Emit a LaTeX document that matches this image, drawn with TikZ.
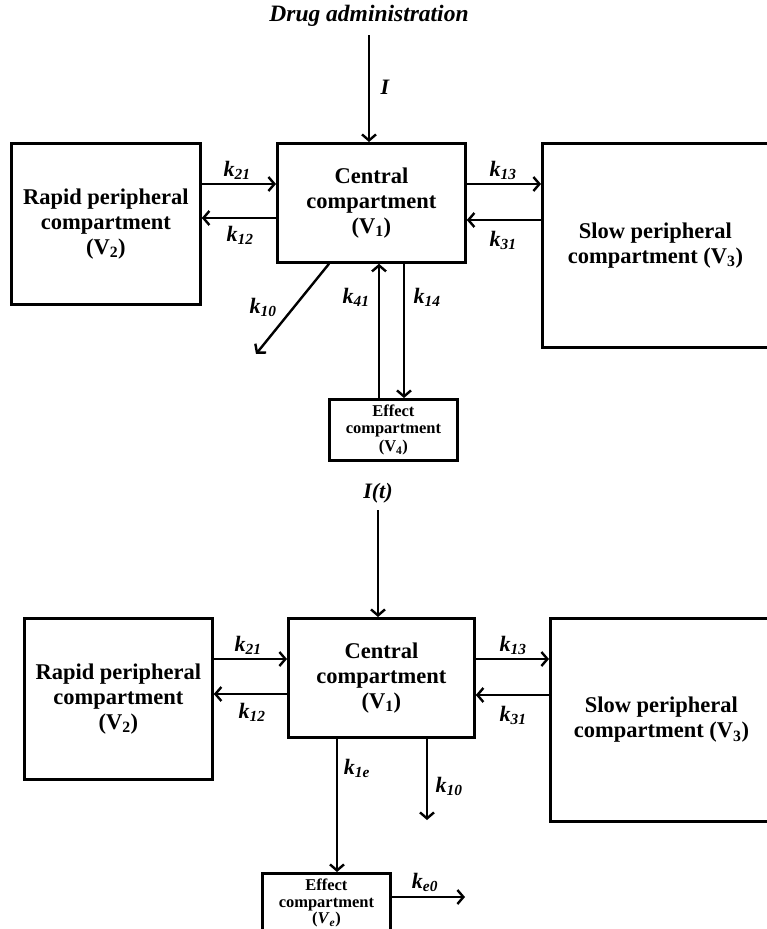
\documentclass[tikz,border=0pt]{standalone}
\usepackage{fontspec}
\setmainfont{Liberation Serif}
\usetikzlibrary{arrows.meta}
\newcommand\krate[1]{k\textsubscript{#1}}
\begin{document}
\begin{tikzpicture}[x=1pt,y=-1pt,
  box/.style={draw, line width=2.8pt, align=center, inner sep=0pt, anchor=north west,
    font=\fontsize{22.5}{25}\selectfont\bfseries},
  smallbox/.style={box, font=\fontsize{16.5}{17.5}\selectfont\bfseries},
  arr/.style={line width=2.4pt, -{Straight Barb[length=6pt,width=14pt]}},
  lab/.style={font=\fontsize{22}{24}\selectfont\bfseries\itshape, inner sep=0pt}]
\clip (0,0) rectangle (767,929);
\fill[white] (0,0) rectangle (767,929);
% ---------- top diagram ----------
\node[lab, font=\fontsize{23.5}{25}\selectfont\bfseries\itshape] (drug) at (369,16) {Drug administration};
\node[box, minimum width=188, minimum height=119] (c1) at (276,142) {Central\\compartment\\(V\textsubscript{1})};
\node[box, minimum width=189, minimum height=161] (r1) at (10,142) {Rapid peripheral\\compartment\\(V\textsubscript{2})};
\node[box, minimum width=226, minimum height=204] (s1) at (541,142) {Slow peripheral\\compartment (V\textsubscript{3})};
\node[smallbox, minimum width=128, minimum height=61] (e1) at (328,398) {Effect\\compartment\\(V\textsubscript{4})};
\coordinate (in1) at (369,35);
\coordinate (k10e) at (256,354);
\draw[arr] (in1) -- (in1 |- c1.north);
\draw[arr] (r1.east |- 0,184) -- (c1.west |- 0,184);
\draw[arr] (c1.west |- 0,218) -- (r1.east |- 0,218);
\draw[arr] (c1.east |- 0,184) -- (s1.west |- 0,184);
\draw[arr] (s1.west |- 0,220) -- (c1.east |- 0,220);
\draw[arr] ([xshift=53pt]c1.south west) -- (k10e);
\draw[arr] ([xshift=51pt]e1.north west) -- ([xshift=103pt]c1.south west);
\draw[arr] ([xshift=128pt]c1.south west) -- ([xshift=76pt]e1.north west);
\node[lab] (lI) at (385,87) {I};
\node[lab] (l21a) at (237,170) {\krate{21}};
\node[lab] (l12a) at (240,235) {\krate{12}};
\node[lab] (l13a) at (503,170) {\krate{13}};
\node[lab] (l31a) at (503,240) {\krate{31}};
\node[lab] (l10a) at (263,307) {\krate{10}};
\node[lab] (l41a) at (356,297) {\krate{41}};
\node[lab] (l14a) at (427,297) {\krate{14}};
% ---------- bottom diagram ----------
\node[lab] (it) at (378,493) {I(t)};
\node[box, minimum width=186, minimum height=119] (c2) at (287,617) {Central\\compartment\\(V\textsubscript{1})};
\node[box, minimum width=188, minimum height=161] (r2) at (23,617) {Rapid peripheral\\compartment\\(V\textsubscript{2})};
\node[box, minimum width=222, minimum height=203] (s2) at (549,617) {Slow peripheral\\compartment (V\textsubscript{3})};
\node[smallbox, font=\fontsize{16.5}{16.5}\selectfont\bfseries, minimum width=128, minimum height=60] (e2) at (261,872) {Effect\\compartment\\(\textit{V}\textsubscript{\textit{e}})};
\coordinate (in2) at (378,510);
\coordinate (k10f) at (427,820);
\coordinate (ke0e) at (465,897);
\draw[arr] (in2) -- (in2 |- c2.north);
\draw[arr] (r2.east |- 0,659) -- (c2.west |- 0,659);
\draw[arr] (c2.west |- 0,694) -- (r2.east |- 0,694);
\draw[arr] (c2.east |- 0,659) -- (s2.west |- 0,659);
\draw[arr] (s2.west |- 0,695) -- (c2.east |- 0,695);
\draw[arr] ([xshift=50pt]c2.south west) -- ([xshift=76pt]e2.north west);
\draw[arr] ([xshift=140pt]c2.south west) -- (k10f);
\draw[arr] (e2.east |- ke0e) -- (ke0e);
\node[lab] (l21b) at (248,645) {\krate{21}};
\node[lab] (l12b) at (252,712) {\krate{12}};
\node[lab] (l13b) at (513,645) {\krate{13}};
\node[lab] (l31b) at (513,715) {\krate{31}};
\node[lab] (l1e) at (357,768) {\krate{1e}};
\node[lab] (l10b) at (449,786) {\krate{10}};
\node[lab] (le0) at (425,882) {\krate{e0}};
\end{tikzpicture}
\end{document}
